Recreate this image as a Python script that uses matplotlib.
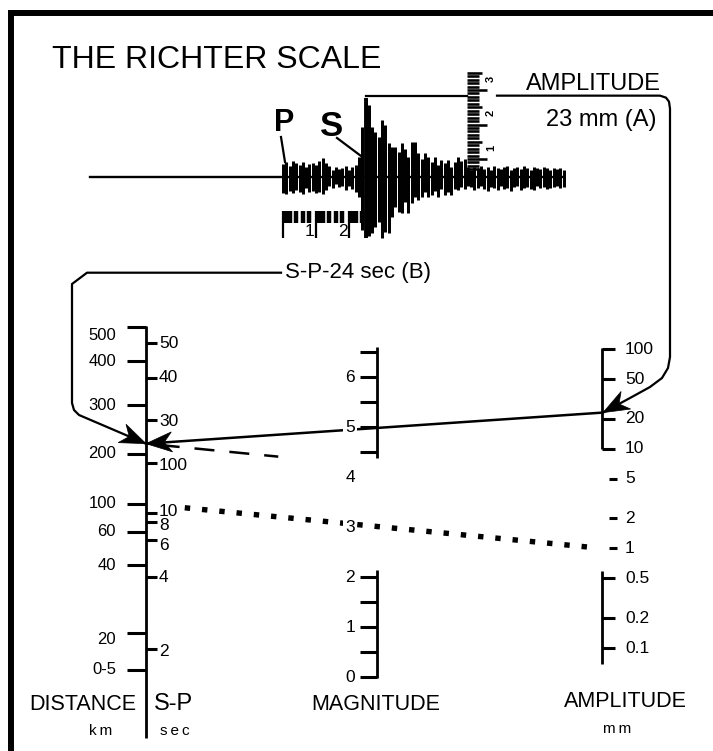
import numpy as np
import matplotlib
matplotlib.use("Agg")
import matplotlib.pyplot as plt
from matplotlib import font_manager
from matplotlib.patches import Polygon

# ---- nomogram scales: tick values and where they sit on the printed scale ----
dist_labels = ["500", "400", "300", "200", "100", "60", "40", "20", "0-5"]
dist_km = [500, 400, 300, 200, 100, 60, 40, 20, 5]
dist_y = [327, 361, 405, 454, 504, 532, 565, 633, 670]
dist_label_dy = [8, 0, 0, 0, 0, 0, 0, 7, 0]

sp_labels = ["50", "40", "30", "100", "10", "8", "6", "4", "2"]
sp_sec = [50, 40, 30, 20, 10, 8, 6, 4, 2]
sp_y = [343, 378, 420, 463, 513, 522, 540, 577, 649]
sp_label_dy = [1, 0, 2, 2, -1, 4, 5, 1, 3]

mag_labels = ["0", "1", "2", "3", "4", "5", "6"]
mag_ticks = [0, 0.5, 1, 1.5, 2, 4.5, 5, 5.5, 6, 6.5]
mag_segments = [(0, 2.15), (4.4, 6.6)]

amp_labels = ["100", "50", "20", "10", "5", "2", "1", "0.5", "0.2", "0.1"]
amp_mm = [100, 50, 20, 10, 5, 2, 1, 0.5, 0.2, 0.1]
amp_loose = [5, 2, 1]
amp_segments = [(10, 100), (0.07, 0.58)]

# ---- worked examples ----
ex_sp = 24       # S-P interval, sec (B)
ex_amp = 23      # maximum amplitude, mm (A)
dash_amp = 4
dot_dist = 100
dot_amp = 1

# ---- seismogram: mm above / below the baseline, one bar every 0.1 s after P ----
trace_up = [3.8, 4.3, 3.2, 4.6, 4.1, 3.5, 4.3, 3.0, 3.8, 4.1, 3.5, 4.6, 5.5, 4.1, 3.2,
            2.0, 2.9, 2.3, 2.6, 3.2, 2.0, 2.9, 3.5, 5.8, 14.5,
            23.0, 21.0,
            14.5, 13.0, 11.6, 16.5, 15.1, 9.9, 8.7, 8.7, 7.2, 9.9, 8.1, 5.8, 10.1, 10.1, 7.0,
            5.2, 7.0, 5.8, 4.3, 5.8, 3.5, 4.9, 4.1, 4.9, 2.9, 4.3, 5.8, 4.6, 5.2, 2.9,
            2.0, 2.9, 2.6, 3.2, 2.3, 2.9, 2.0, 3.2, 2.6, 2.3, 2.9, 3.2, 2.0, 2.6, 2.9,
            2.3, 3.2, 2.6, 2.0, 2.9, 2.6, 2.3, 2.9, 2.6, 2.0, 2.6, 2.3, 2.6, 2.0]
trace_down = [4.6, 4.9, 4.1, 4.6, 3.8, 4.3, 4.9, 3.2, 4.3, 4.1, 4.6, 4.3, 4.9, 3.8, 2.6,
              3.2, 2.0, 2.9, 2.6, 3.8, 2.6, 3.5, 4.3, 5.8, 15.4,
              17.4, 17.0,
              16.2, 14.5, 13.0, 17.7, 15.9, 16.2, 11.6, 8.7, 10.1, 10.4, 7.2, 10.4, 7.5, 5.8, 6.7,
              5.8, 4.3, 5.8, 5.2, 4.1, 5.8, 3.5, 5.2, 4.3, 5.2, 3.5, 3.8, 2.9, 3.5, 2.6,
              2.9, 3.8, 3.2, 2.6, 3.5, 4.1, 2.9, 3.2, 3.8, 2.6, 3.5, 3.2, 4.1, 2.9, 2.6,
              3.8, 3.2, 2.9, 3.5, 3.8, 2.6, 3.2, 2.9, 3.5, 3.2, 2.9, 2.6, 3.2, 2.9]
ruler_mm = np.arange(7, 36)
ruler_labels = ["1", "2", "3"]

# ---- layout (figure pixels) ----
X_DIST, X_MAG, X_AMP = 146, 377, 602
MAG_Y0, MAG_PX = 677, 50
AMP_Y100, AMP_PX = 349, 99.7
BASE_Y, T0_X, PX_SEC, PX_MM = 177, 283, 33, 3.45
RULER_X, RULER_Y0 = 467, 193.5

names = {f.name for f in font_manager.fontManager.ttflist}
if "Liberation Sans Narrow" in names:
    narrow = dict(family="Liberation Sans Narrow", fontsize=18)
else:
    narrow = dict(family="Liberation Sans", fontsize=15.5)
plt.rcParams["font.family"] = ["Liberation Sans", "DejaVu Sans"]
THIN = "\u2009"


def dist_to_y(km):
    return np.interp(np.log10(km), np.log10(dist_km[::-1]), dist_y[::-1])


def sp_to_y(s):
    return np.interp(np.log10(s), np.log10(sp_sec[::-1]), sp_y[::-1])


def mag_to_y(m):
    return MAG_Y0 - MAG_PX * np.asarray(m, dtype=float)


def amp_to_y(a):
    return AMP_Y100 + AMP_PX * (2 - np.log10(a))


def stealth(ax, tip, frm, length=26, half=10, notch=0.3):
    tip = np.asarray(tip, float)
    u = tip - np.asarray(frm, float)
    u /= np.hypot(*u)
    n = np.array([-u[1], u[0]])
    back = tip - length * u
    pts = [tip, back + half * n, tip - (1 - notch) * length * u, back - half * n]
    ax.add_patch(Polygon(pts, closed=True, fc="black", ec="black", lw=0.5, zorder=6))


fig = plt.figure(figsize=(7.13, 7.51), dpi=100)
ax = fig.add_axes([0, 0, 1, 1])
ax.set_xlim(0, 713)
ax.set_ylim(751, 0)
ax.axis("off")

# frame (top and left edges)
ax.plot([11, 11, 713], [751, 13, 13], color="black", lw=4.3, solid_joinstyle="miter")

ax.text(52, 68, "THE RICHTER SCALE", fontsize=23, va="baseline")

# ---- seismogram ----
t = np.arange(len(trace_up)) * 0.1
xs = T0_X + PX_SEC * t
up = np.array(trace_up)
down = np.array(trace_down)
ax.plot([90, xs[-1]], [BASE_Y, BASE_Y], color="black", lw=1.7)
ax.vlines(xs, BASE_Y - up * PX_MM, BASE_Y + down * PX_MM, color="black", lw=2.15)
spike = int(np.argmax(up))
ax.vlines(xs[spike], BASE_Y - up[spike] * PX_MM, 238, color="black", lw=2.8)

# time marks under the trace
sub_t = [s for s in np.arange(0.2, 2.5, 0.2) if abs(s - round(s)) > 0.05]
ax.vlines(T0_X + PX_SEC * np.array(sub_t), 211, 223, color="black", lw=3.2)
ax.vlines(T0_X + PX_SEC * np.array([0, 1, 2]), 211, 238, color="black", lw=1.6)
ax.vlines(T0_X + PX_SEC * np.array([0, 1, 2]) + 3, 211, 223, color="black", lw=3.2)
for sec in (1, 2):
    ax.text(T0_X + PX_SEC * sec - 6, 232, str(sec), fontsize=12.5, ha="center", va="center")

# phase labels
ax.text(284, 123, "P", fontsize=22, fontweight="bold", ha="center", va="center")
ax.plot([281, 285], [137, 162], color="black", lw=1.6)
ax.text(332, 126, "S", fontsize=25, fontweight="bold", ha="center", va="center")
ax.plot([337, 361], [138, 156], color="black", lw=1.6)

# amplitude ruler
for mm in ruler_mm:
    yy = RULER_Y0 - mm * PX_MM
    x1 = RULER_X + (20 if mm % 10 == 0 else 15 if mm % 5 == 0 else 12)
    ax.plot([RULER_X, x1], [yy, yy], color="black", lw=1.85, solid_capstyle="butt")
for k, lab in enumerate(ruler_labels):
    yy = RULER_Y0 - (k + 1) * 10 * PX_MM - 11.5
    ax.text(491, yy, lab, fontsize=8, fontweight="bold", rotation=90,
            ha="center", va="center")

# connector: amplitude reading (A)
a_tip = (X_AMP + 1, amp_to_y(ex_amp))
top_y = BASE_Y - up[spike] * PX_MM - 2
ax.plot([xs[spike], RULER_X], [top_y, top_y], color="black", lw=1.6)
path_a = [(497, top_y), (660, top_y), (666, top_y + 2), (669, top_y + 6), (670, top_y + 13),
          (670, 357), (668, 368), (662, 378), (650, 387), (630, 398), a_tip]
ax.plot(*zip(*path_a), color="black", lw=1.6)
stealth(ax, a_tip, (630, 398))
ax.text(526, 90, "AMPLITUDE", fontsize=17, va="baseline")
ax.text(657, 126, "23 mm (A)", fontsize=17, ha="right", va="baseline")

# connector: S-P reading (B)
b_tip = (X_DIST, sp_to_y(ex_sp))
path_b = [(281, 272.7), (87, 272.7), (72, 284), (72, 403), (74, 410), (79, 415), b_tip]
ax.plot(*zip(*path_b), color="black", lw=1.6)
stealth(ax, b_tip, (79, 415))
ax.text(285, 272.7, "S-P-24 sec (B)", fontsize=16, va="center")

# ---- scales ----
AX_LW, TK_LW = 2.0, 2.2
kw = dict(color="black", solid_capstyle="butt")

# distance / S-P
ax.plot([X_DIST, X_DIST], [dist_to_y(500) - 1, 738], lw=AX_LW, **kw)
for lab, km, dy in zip(dist_labels, dist_km, dist_label_dy):
    yy = dist_to_y(km)
    ax.plot([X_DIST - 19, X_DIST], [yy, yy], lw=TK_LW, **kw)
    ax.text(116, yy + dy, lab, fontsize=12, ha="right", va="center")
for lab, s, dy in zip(sp_labels, sp_sec, sp_label_dy):
    yy = sp_to_y(s)
    ax.plot([X_DIST, X_DIST + 11], [yy, yy], lw=TK_LW, **kw)
    ax.text(159, yy + dy, lab, fontsize=12.5, ha="left", va="center")

# magnitude
for lo, hi in mag_segments:
    ax.plot([X_MAG, X_MAG], [mag_to_y(lo) + 1, mag_to_y(hi)], lw=AX_LW, **kw)
for m in mag_ticks:
    yy = mag_to_y(m)
    ax.plot([X_MAG - 17, X_MAG], [yy, yy], lw=TK_LW, **kw)
for lab in mag_labels:
    ax.text(355, mag_to_y(float(lab)), lab, fontsize=12.5, ha="right", va="center", zorder=5,
            bbox=dict(fc="white", ec="none", pad=1.5))

# amplitude
for lo, hi in amp_segments:
    ax.plot([X_AMP, X_AMP], [amp_to_y(lo), amp_to_y(hi) - 1], lw=AX_LW, **kw)
for lab, a in zip(amp_labels, amp_mm):
    yy = amp_to_y(a)
    if a in amp_loose:
        ax.plot([X_AMP + 7, X_AMP + 15], [yy, yy], lw=TK_LW, **kw)
    else:
        ax.plot([X_AMP, X_AMP + 13], [yy, yy], lw=TK_LW, **kw)
    ax.text(625, yy, lab, fontsize=12.5, ha="left", va="center")

# ---- reading lines ----
p_a = np.array([X_AMP, amp_to_y(ex_amp)])
p_b = np.array([X_DIST, sp_to_y(ex_sp)])
ax.plot([p_a[0], p_b[0]], [p_a[1], p_b[1]], color="black", lw=1.8, zorder=3)
stealth(ax, p_b, p_a)

p_d = np.array([X_AMP, amp_to_y(dash_amp)])
seg = np.array([p_b + f * (p_d - p_b) for f in (0.03, 0.29)])
ax.plot(seg[:, 0], seg[:, 1], color="black", lw=1.8, linestyle=(0, (8, 6)), zorder=3)

p_s = np.array([X_DIST, dist_to_y(dot_dist)])
p_e = np.array([X_AMP, amp_to_y(dot_amp)])
seg = np.array([p_s + f * (p_e - p_s) for f in (0.085, 0.98)])
ax.plot(seg[:, 0], seg[:, 1], color="black", lw=3.9, linestyle=(0, (1, 2.2)),
        dash_capstyle="butt", zorder=3)

# ---- scale titles ----
ax.text(83, 710, "DISTANCE", ha="center", va="baseline", **narrow)
ax.text(154, 710, "S-P", fontsize=17, ha="left", va="baseline")
ax.text(101, 735, THIN.join("km"), fontsize=11, ha="center", va="baseline")
ax.text(160, 735, THIN.join("sec"), fontsize=11, ha="left", va="baseline")
ax.text(376, 710, "MAGNITUDE", ha="center", va="baseline", **narrow)
ax.text(625, 707, "AMPLITUDE", ha="center", va="baseline", **narrow)
ax.text(617, 733, THIN.join("mm"), fontsize=11, ha="center", va="baseline")

fig.savefig("out.png", dpi=100)
